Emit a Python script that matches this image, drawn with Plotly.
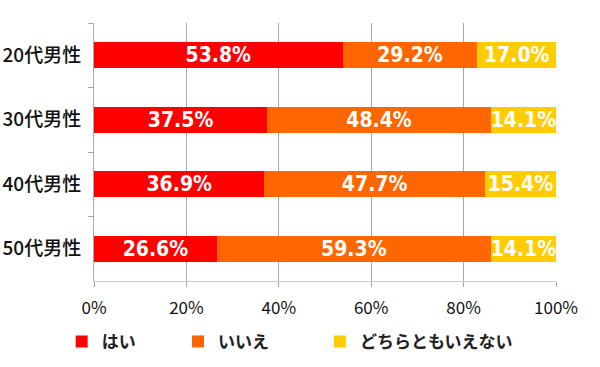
import plotly.graph_objects as go

categories = ["20代男性", "30代男性", "40代男性", "50代男性"]
series_names = ["はい", "いいえ", "どちらともいえない"]
yes_values = [53.8, 37.5, 36.9, 26.6]
no_values = [29.2, 48.4, 47.7, 59.3]
neither_values = [17.0, 14.1, 15.4, 14.1]
tick_values = [0, 20, 40, 60, 80, 100]

colors = ["#FF0000", "#FF6600", "#FFCC00"]
series_values = [yes_values, no_values, neither_values]
legend_ids = ["legend", "legend2", "legend3"]

fig = go.Figure()
for name, vals, col, lg in zip(series_names, series_values, colors, legend_ids):
    fig.add_trace(go.Bar(
        y=categories, x=vals, name=name, orientation="h",
        marker=dict(color=col, line=dict(width=0)),
        texttemplate="%{x:.1f}%", textposition="inside",
        insidetextanchor="middle", textangle=0, constraintext="none",
        textfont=dict(family="Liberation Sans Narrow, Arial Narrow, DejaVu Sans Condensed",
                      size=21, color="white", weight="bold"),
        legend=lg,
    ))

legend_font = dict(family="Noto Sans CJK JP", size=17, color="#222", weight="bold")
leg_common = dict(orientation="h", xanchor="left", y=-0.236, yanchor="middle",
                  font=legend_font, bgcolor="rgba(0,0,0,0)")
fig.update_layout(
    width=600, height=367,
    barmode="stack", bargap=0.59,
    plot_bgcolor="white", paper_bgcolor="white",
    margin=dict(l=94, r=44, t=23, b=86, autoexpand=False),
    showlegend=True,
    legend=dict(x=-0.07, **leg_common),
    legend2=dict(x=0.1818, **leg_common),
    legend3=dict(x=0.489, **leg_common),
)

fig.update_xaxes(
    range=[0, 100], tickvals=tick_values, ticktext=[f"{v}%" for v in tick_values],
    showgrid=True, gridcolor="#a8a8a8", gridwidth=1,
    showline=True, linecolor="#c8c8c8", linewidth=1,
    ticks="outside", ticklen=5, tickcolor="#a8a8a8",
    tickfont=dict(family="Noto Sans CJK JP", size=17, color="#111"),
    ticklabelstandoff=7, zeroline=False, automargin=False,
)
fig.update_yaxes(
    autorange="reversed", type="category",
    showline=True, linecolor="#a8a8a8", linewidth=1,
    ticks="outside", ticklen=5, tickcolor="#a8a8a8", tickson="boundaries",
    showgrid=False,
    tickfont=dict(family="Noto Sans CJK JP", size=19, color="#111", weight=500),
    ticklabelstandoff=8, automargin=False,
)

fig.write_html("out.html",
               config={"displayModeBar": False},
               post_script="document.body.style.margin='0';document.body.style.padding='0';")
